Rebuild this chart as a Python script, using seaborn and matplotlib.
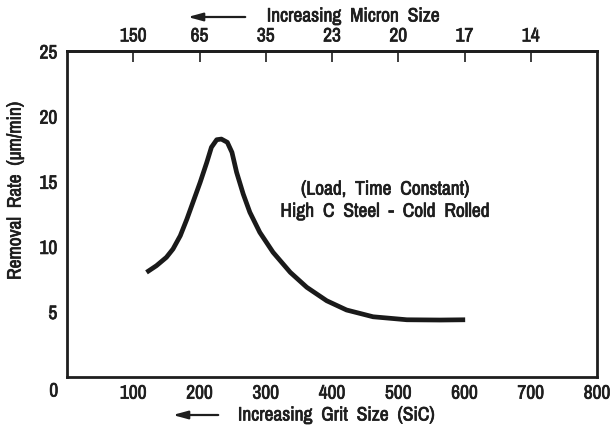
import matplotlib
matplotlib.use("Agg")
import matplotlib.pyplot as plt
import matplotlib.patheffects as pe
from matplotlib.patches import FancyArrowPatch
from matplotlib.text import Text
import seaborn as sns
import pandas as pd

# curve (grit size vs removal rate)
grit = [120, 135, 150, 160, 171, 181, 191, 201, 211, 218, 226, 233, 242,
        249, 256, 266, 276, 291, 311, 337, 362, 392, 422, 462, 513, 563, 601]
rate = [8.01, 8.52, 9.16, 9.80, 10.82, 12.10, 13.51, 14.92, 16.45, 17.61,
        18.19, 18.24, 17.99, 17.22, 15.69, 14.02, 12.62, 11.08, 9.55, 8.01,
        6.86, 5.83, 5.12, 4.60, 4.37, 4.35, 4.37]

grit_ticks = [100, 200, 300, 400, 500, 600, 700, 800]
micron_ticks = [100, 200, 300, 400, 500, 600, 700]
micron_labels = ["150", "65", "35", "23", "20", "17", "14"]
rate_ticks = [5, 10, 15, 20, 25]

note_lines = ["(Load,  Time  Constant)", "High  C  Steel  -  Cold  Rolled"]

sns.set_style("white")
plt.rcParams["font.family"] = ["Archivo Narrow", "DejaVu Sans"]
FS = 14
INK = "#1e1e1e"

df = pd.DataFrame({"grit": grit, "rate": rate})

fig = plt.figure(figsize=(6.15, 4.27), dpi=100)
ax = fig.add_axes([67 / 615, 1 - 377.7 / 427, 530 / 615, 325.7 / 427])

sns.lineplot(data=df, x="grit", y="rate", ax=ax, color="#1a1a1a", lw=3.4,
             sort=False, solid_capstyle="butt", solid_joinstyle="round")

ax.set_xlim(0, 800)
ax.set_ylim(0, 25)
ax.set_xticks(grit_ticks)
ax.set_xticklabels([str(t) for t in grit_ticks], fontsize=FS)
ax.set_yticks(rate_ticks)
ax.set_yticklabels([str(t) for t in rate_ticks], fontsize=FS)
ax.tick_params(direction="in", length=8, width=1.2, color=INK,
               labelcolor=INK, pad=7)
ax.tick_params(axis="x", pad=5)

for s in ax.spines.values():
    s.set_linewidth(2.0)
    s.set_color(INK)

top = ax.secondary_xaxis("top")
top.set_xticks(micron_ticks)
top.set_xticklabels(micron_labels, fontsize=FS)
top.tick_params(direction="in", length=8, width=1.2, color=INK,
                labelcolor=INK, pad=4)
top.spines["top"].set_linewidth(2.0)
top.spines["top"].set_color(INK)

ax.set_xlabel("")
ax.set_ylabel("Removal  Rate  (\u03bcm/min)", fontsize=FS, color=INK)
ax.yaxis.set_label_coords(-0.080, 0.57)

# lone zero in the corner
ax.text(-0.025, -0.044, "0", transform=ax.transAxes, fontsize=FS,
        ha="center", va="center", color=INK)

# axis captions with arrows
fig.text(336 / 615, 1 - 416 / 427, "Increasing  Grit  Size  (SiC)",
         fontsize=FS, ha="center", va="center", color=INK)
fig.text(353 / 615, 1 - 17 / 427, "Increasing  Micron  Size",
         fontsize=FS, ha="center", va="center", color=INK)
arrow = dict(arrowstyle="-|>,head_length=1.1,head_width=0.3",
             mutation_scale=8, lw=1.6, color=INK, transform=fig.transFigure)
fig.add_artist(FancyArrowPatch((221 / 615, 1 - 416 / 427),
                               (170 / 615, 1 - 416 / 427), **arrow))
fig.add_artist(FancyArrowPatch((248 / 615, 1 - 18 / 427),
                               (185 / 615, 1 - 18 / 427), **arrow))

ax.text(480, 14.4, note_lines[0], fontsize=FS, ha="center", va="center",
        color=INK)
ax.text(480, 12.7, note_lines[1], fontsize=FS, ha="center", va="center",
        color=INK)

# slightly heavier strokes on the lettering, like the printed original
for t in fig.findobj(Text):
    t.set_path_effects([pe.withStroke(linewidth=0.5, foreground=INK)])

fig.savefig("out.png", dpi=100)
